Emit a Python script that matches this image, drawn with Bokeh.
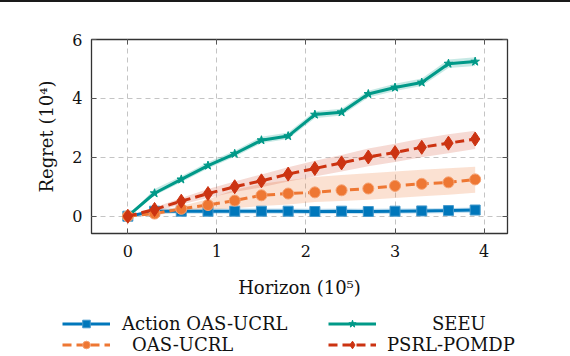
from bokeh.plotting import figure
from bokeh.models import (Range1d, Legend, LegendItem, LinearAxis, FixedTicker, Div)
from bokeh.layouts import column
from bokeh.embed import file_html
from bokeh.resources import INLINE

# ---------------- data ----------------
horizon = [0, 0.3, 0.6, 0.9, 1.2, 1.5, 1.8, 2.1, 2.4, 2.7, 3.0, 3.3, 3.6, 3.9]

action_oas = [0, 0.17, 0.17, 0.17, 0.17, 0.17, 0.17, 0.16, 0.17, 0.16, 0.17, 0.18, 0.19, 0.21]
action_lo = [0, 0.09, 0.08, 0.08, 0.08, 0.08, 0.08, 0.07, 0.08, 0.07, 0.08, 0.09, 0.10, 0.12]
action_hi = [0, 0.26, 0.26, 0.26, 0.26, 0.26, 0.26, 0.25, 0.26, 0.25, 0.26, 0.27, 0.28, 0.30]

oas = [0, 0.09, 0.25, 0.38, 0.53, 0.71, 0.77, 0.81, 0.88, 0.94, 1.03, 1.10, 1.15, 1.25]
oas_lo = [0, 0.03, 0.15, 0.22, 0.27, 0.35, 0.40, 0.48, 0.52, 0.56, 0.62, 0.68, 0.73, 0.80]
oas_hi = [0, 0.15, 0.35, 0.58, 0.90, 1.10, 1.22, 1.33, 1.40, 1.46, 1.52, 1.58, 1.63, 1.68]

seeu = [0, 0.78, 1.25, 1.72, 2.12, 2.58, 2.72, 3.45, 3.53, 4.15, 4.37, 4.54, 5.18, 5.25]
seeu_lo = [0, 0.70, 1.15, 1.62, 2.02, 2.48, 2.62, 3.33, 3.42, 4.03, 4.25, 4.42, 5.03, 5.10]
seeu_hi = [0, 0.92, 1.36, 1.83, 2.22, 2.70, 2.84, 3.56, 3.65, 4.26, 4.50, 4.68, 5.32, 5.40]

psrl = [0, 0.23, 0.51, 0.77, 1.00, 1.20, 1.43, 1.62, 1.81, 2.01, 2.16, 2.34, 2.48, 2.62]
psrl_lo = [0, 0.15, 0.40, 0.62, 0.82, 0.98, 1.18, 1.35, 1.52, 1.70, 1.84, 2.00, 2.14, 2.28]
psrl_hi = [0, 0.30, 0.62, 0.92, 1.18, 1.42, 1.66, 1.88, 2.08, 2.30, 2.46, 2.64, 2.78, 2.90]

x_ticks = [0, 1, 2, 3, 4]
y_ticks = [0, 2, 4, 6]
labels = ["Action OAS-UCRL", "SEEU", "OAS-UCRL", "PSRL-POMDP"]

BLUE = "#0077BB"
TEAL = "#009988"
ORANGE = "#EE7733"
RED = "#CC3311"
FONT = "DejaVu Serif"

# styles per series (used by the chart and by the legend strip)
STYLES = {
    labels[0]: dict(color=BLUE, dash="solid", marker="square", size=10, edge="#4499cc"),
    labels[1]: dict(color=TEAL, dash="solid", marker="star", size=9, edge=TEAL),
    labels[2]: dict(color=ORANGE, dash="9 5", marker="circle", size=11, edge="#f5a070"),
    labels[3]: dict(color=RED, dash="9 5", marker="diamond", size=14, edge=RED),
}

p = figure(width=570, height=309, output_backend="svg",
           toolbar_location=None, x_range=Range1d(-0.408, 4.263),
           y_range=Range1d(-0.587, 6.0),
           min_border_left=91, min_border_top=37, min_border_right=63,
           min_border_bottom=78)
p.frame_align = False
p.outline_line_color = "#333333"
p.outline_line_width = 1.3
p.background_fill_color = "white"
p.border_fill_color = "white"

for ax, tk in ((p.xaxis[0], x_ticks), (p.yaxis[0], y_ticks)):
    ax.ticker = FixedTicker(ticks=tk)
    ax.major_tick_in = 5
    ax.major_tick_out = 0
    ax.minor_tick_line_color = None
    ax.axis_line_color = None
    ax.major_tick_line_color = "#555555"
    ax.major_label_text_font = FONT
    ax.major_label_text_font_size = "16px"
    ax.major_label_text_color = "#111111"
    ax.axis_label_text_font = FONT
    ax.axis_label_text_font_size = "18px"
    ax.axis_label_text_font_style = "normal"
    ax.axis_label_text_color = "#111111"

p.xaxis.axis_label = "Horizon (10\u2075)"
p.yaxis.axis_label = "Regret (10\u2074)"
p.xaxis.major_label_standoff = 11
p.yaxis.major_label_standoff = 9
p.xaxis.axis_label_standoff = 17
p.yaxis.axis_label_standoff = 12

# mirrored ticks on top/right
for loc, tk in (("right", y_ticks), ("above", x_ticks)):
    a = LinearAxis(ticker=FixedTicker(ticks=tk))
    a.major_tick_in = 5
    a.major_tick_out = 0
    a.minor_tick_line_color = None
    a.axis_line_color = None
    a.major_tick_line_color = "#555555"
    a.major_label_overrides = {t: "" for t in tk}
    a.major_label_standoff = 0
    p.add_layout(a, loc)

p.xgrid.ticker = FixedTicker(ticks=x_ticks)
p.ygrid.ticker = FixedTicker(ticks=y_ticks)
for g in (p.xgrid[0], p.ygrid[0]):
    g.grid_line_color = "#c4c4c4"
    g.grid_line_dash = "5 4"
    g.grid_line_width = 1

# bands
p.varea(x=horizon, y1=action_lo, y2=action_hi, fill_color=BLUE, fill_alpha=0.22)
p.varea(x=horizon, y1=seeu_lo, y2=seeu_hi, fill_color=TEAL, fill_alpha=0.22)
p.varea(x=horizon, y1=oas_lo, y2=oas_hi, fill_color=ORANGE, fill_alpha=0.22)
p.varea(x=horizon, y1=psrl_lo, y2=psrl_hi, fill_color=RED, fill_alpha=0.18)

series = [(labels[0], action_oas), (labels[1], seeu), (labels[2], oas), (labels[3], psrl)]
for lab, ys in series:
    s = STYLES[lab]
    p.line(horizon, ys, line_color=s["color"], line_width=3, line_dash=s["dash"])
    p.scatter(horizon, ys, marker=s["marker"], size=s["size"],
              fill_color=s["color"], line_color=s["edge"], line_width=1)

# ---------------- legend strip (separate canvas) ----------------
q = figure(width=570, height=45, output_backend="svg", toolbar_location=None,
           x_axis_type=None, y_axis_type=None,
           x_range=Range1d(0, 570), y_range=Range1d(0, 45),
           min_border=0, min_border_left=0, min_border_right=0,
           min_border_top=0, min_border_bottom=0)
q.frame_align = False
q.outline_line_color = None
q.background_fill_color = "white"
q.border_fill_color = "white"

# (label, (x, y) of legend box, label standoff)
legend_pos = [
    (labels[0], (62, 22), 12),
    (labels[1], (328, 22), 56),
    (labels[2], (62, 1), 22),
    (labels[3], (328, 1), 11),
]
NAN = float("nan")
for lab, loc, standoff in legend_pos:
    s = STYLES[lab]
    # placeholder renderers (one undrawable point) that only feed the legend glyph
    lr = q.line([NAN], [NAN], line_color=s["color"], line_width=3, line_dash=s["dash"])
    mr = q.scatter([NAN], [NAN], marker=s["marker"], size=s["size"],
                   fill_color=s["color"], line_color=s["edge"], line_width=1)
    lg = Legend(items=[LegendItem(label=lab, renderers=[lr, mr])], location=loc)
    lg.padding = 0
    lg.margin = 0
    lg.spacing = 0
    lg.border_line_color = None
    lg.background_fill_alpha = 0
    lg.glyph_width = 48
    lg.glyph_height = 19
    lg.label_height = 19
    lg.label_standoff = standoff
    lg.label_text_font = FONT
    lg.label_text_font_size = "18px"
    lg.label_text_color = "#111111"
    q.add_layout(lg)

top_rule = Div(text="", width=570, height=2, margin=0,
               styles={"background-color": "#1a1a1a"})

layout = column(top_rule, p, q, spacing=0)
open("out.html", "w").write(file_html(layout, INLINE))
